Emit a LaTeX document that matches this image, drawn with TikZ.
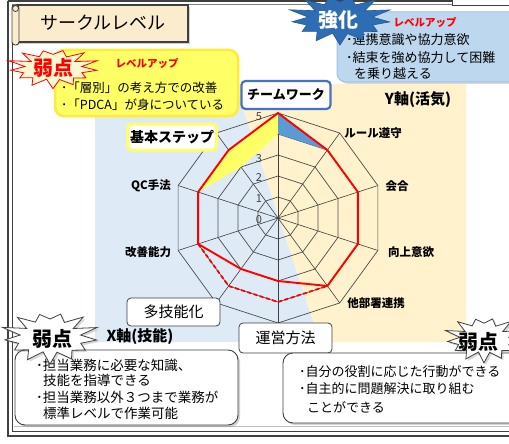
\documentclass[tikz,border=0pt]{standalone}
\usepackage{fontspec}
\setmainfont{Noto Sans CJK JP}
\usetikzlibrary{shadows,calc}
\definecolor{bgblue}{HTML}{DEEAF6}
\definecolor{bgcream}{HTML}{FFF2CC}
\definecolor{chartyellow}{HTML}{FFFF66}
\definecolor{chartblue}{HTML}{5B9BD5}
\definecolor{titlefill}{HTML}{FCECCE}
\definecolor{yellowedge}{HTML}{FFEB3B}
\definecolor{calloutblue}{HTML}{BDD7EE}
\definecolor{blueedge}{HTML}{9DC3E6}
\definecolor{teamblue}{HTML}{4472C4}
\definecolor{starblue}{HTML}{2E6DB4}
\definecolor{framegrey}{HTML}{404040}
\definecolor{starcream}{HTML}{FFF7D0}
\newcommand{\myfs}[1]{\fontsize{#1}{#1}\selectfont}
% #1 options, #2 cx, #3 cy, #4 rx, #5 ry
\newcommand{\drawburst}[5]{%
  \path[#1] ({#2+#4*cos(7)}, {#3+#5*sin(7)}) \foreach \i in {1,...,25}{ -- ({#2+#4*(0.83+0.17*cos(\i*180))*(1+0.09*sin(\i*137))*cos(\i*360/26+7)}, {#3+#5*(0.83+0.17*cos(\i*180))*(1+0.09*sin(\i*137))*sin(\i*360/26+7)}) } -- cycle;}
\begin{document}
\begin{tikzpicture}[x=1pt,y=-1pt,
  gridline/.style={draw=black!70, line width=0.7pt},
  axisline/.style={draw=black!75, line width=0.6pt},
  labelbox/.style={rounded corners=4pt, fill=white, inner sep=0pt},
  axislab/.style={font=\bfseries\myfs{11.5}, inner sep=0pt},
  bul/.style={anchor=west, inner sep=0pt},
  lvl/.style={font=\myfs{11}, text=black!75, inner sep=0pt},
  upstyle/.style={font=\bfseries\myfs{10.5}, text=red, inner sep=0pt},
  whitecallout/.style={draw=framegrey, line width=0.9pt, fill=white, rounded corners=10pt,
     drop shadow={opacity=0.35, shadow xshift=2pt, shadow yshift=-2pt}},
  bursttext/.style={font=\bfseries\myfs{20}, inner sep=0pt},
  whiteburst/.style={fill=white, draw=framegrey, line width=0.8pt,
     drop shadow={opacity=0.3, shadow xshift=2pt, shadow yshift=-2pt}},
]
\useasboundingbox (0,0) rectangle (509,444);
\clip (0,0) rectangle (509,444);
\fill[white] (0,0) rectangle (509,444);

% frame
\draw[black!25, line width=1pt] (14,426) -- (520,426);
\draw[framegrey, line width=2.2pt] (8,1) -- (8,436) -- (520,436);
\draw[framegrey, line width=0.9pt] (12,4) -- (12,431) -- (520,431);
\draw[framegrey, line width=1.2pt] (8,1) -- (452,1);
\draw[black!50, line width=0.8pt] (12,4) -- (452,4);
\draw[framegrey, line width=0.8pt, fill=white] (452,-3) rectangle (515,5);

% chart backgrounds
\fill[bgblue] (95,84) -- (235,84) -- (320,342) -- (95,342) -- cycle;
\fill[bgcream] (235,84) -- (466,84) -- (466,342) -- (320,342) -- cycle;

% radar chart
\begin{scope}[shift={(278,218)}, yscale=-1]
  \foreach \l in {1,...,5}
    \draw[gridline] (90:{21*\l}) \foreach \a in {54,18,...,-234}{ -- (\a:{21*\l}) } -- cycle;
  \foreach \a in {90,54,...,-234} \draw[axisline] (0,0) -- (\a:105);
  \fill[chartyellow] (90:105) -- (126:84) -- (162:84) -- (126:63) -- (90:84) -- cycle;
  \fill[chartblue] (90:105) -- (54:84) -- (90:84) -- cycle;
  \draw[red, line width=1.8pt, dash pattern=on 4pt off 2.5pt] (-162:84) -- (-126:84) -- (-90:84) -- (-54:84);
  \draw[red, line width=1.9pt, line join=round] (90:105) -- (54:84) -- (18:84) -- (-18:84) -- (-54:84)
     -- (-90:63) -- (-126:63) -- (-162:84) -- (162:84) -- (126:84) -- cycle;
\end{scope}

% level labels
\node[lvl] (l0) at (259,220) {0};
\node[lvl] (l1) at (259,199) {1};
\node[lvl] (l2) at (259,178) {2};
\node[lvl] (l3) at (259,159) {3};
\node[lvl] (l5) at (259,117) {5};

% axis labels
\node[axislab] (rule) at (373,133) {ルール遵守};
\node[axislab] (kaigo) at (397,186) {会合};
\node[axislab] (kojo) at (411,252) {向上意欲};
\node[axislab] (tabusho) at (376,303) {他部署連携};
\node[axislab] (qc) at (151,186) {QC手法};
\node[axislab] (kaizen) at (148,252) {改善能力};
\node[font=\bfseries\myfs{15}, inner sep=0pt] (yaxis) at (418,100) {Y軸(活気)};
\node[font=\bfseries\myfs{15}, inner sep=0pt] (xaxis) at (140,337) {X軸(技能)};

% label boxes
\node[labelbox, draw=teamblue, line width=2.2pt, minimum width=89pt, minimum height=28pt,
      font=\bfseries\myfs{13}] (team) at (286,95) {チームワーク};
\node[labelbox, draw=chartyellow, line width=3pt, minimum width=89pt, minimum height=26pt,
      font=\bfseries\myfs{14}] (kihon) at (172,137) {基本ステップ};
\node[labelbox, draw=framegrey, line width=0.8pt, minimum width=93pt, minimum height=28pt,
      font=\myfs{15}] (tagino) at (173.5,312) {多技能化};
\node[labelbox, draw=framegrey, line width=0.8pt, minimum width=93pt, minimum height=30pt,
      font=\myfs{15}] (unei) at (285.5,338) {運営方法};

% title
\path[fill=titlefill, draw=framegrey, line width=1.2pt,
      drop shadow={opacity=0.35, shadow xshift=2pt, shadow yshift=-2pt}] (17,5) rectangle (188,42);
\path[fill=titlefill, draw=framegrey, line width=0.9pt, rounded corners=3pt] (12,5) rectangle (19,45);
\draw[framegrey, line width=0.8pt, fill=titlefill] (15.5,8.5) circle (3);
\node[font=\myfs{18}, inner sep=0pt] (title) at (103,23) {サークルレベル};

% top-left yellow callout
\path[fill=chartyellow, draw=yellowedge, line width=2.5pt, rounded corners=9pt] (55,50) rectangle (238,116);
\node[upstyle] (up1) at (147,63) {レベルアップ};
\node[bul, font=\myfs{12.5}] (y1) at (61,88) {･「層別」の考え方での改善};
\node[bul, font=\myfs{12.5}] (y2) at (61,105) {･「PDCA」が身についている};
\drawburst{fill=starcream, draw=red, line width=0.8pt}{53}{68}{44}{19}
\node[bursttext, text=red] (weak1) at (53,68) {弱点};

% top-right blue callout
\path[fill=calloutblue, draw=blueedge, line width=1pt, rounded corners=9pt,
      drop shadow={opacity=0.3, shadow xshift=2pt, shadow yshift=-2pt}] (337,12) rectangle (520,82);
\node[upstyle] (up2) at (425,23) {レベルアップ};
\node[bul, font=\myfs{13}] (b1) at (346,40) {･連携意識や協力意欲};
\node[bul, font=\myfs{13}] (b2) at (346,58) {･結束を強め協力して困難};
\node[bul, font=\myfs{13}] (b3) at (354,74) {を乗り越える};
\drawburst{fill=starblue, draw=starblue!80!black, line width=0.6pt}{340}{19}{50}{24}
\node[bursttext, text=white] (kyoka) at (338,20) {強化};

% bottom-left callout
\path[whitecallout] (15,350) rectangle (238,425);
\node[bul, font=\myfs{13.5}] (c1) at (36,365) {･担当業務に必要な知識、};
\node[bul, font=\myfs{13.5}] (c2) at (43,380) {技能を指導できる};
\node[bul, font=\myfs{13.5}] (c3) at (36,397) {･担当業務以外３つまで業務が};
\node[bul, font=\myfs{13.5}] (c4) at (43,413) {標準レベルで作業可能};
\drawburst{whiteburst}{50}{337}{47}{25}
\node[bursttext] (weak2) at (52,339) {弱点};

% bottom-right callout
\path[whitecallout] (283,353) rectangle (520,423);
\node[bul, font=\myfs{13}] (d1) at (299,372) {･自分の役割に応じた行動ができる};
\node[bul, font=\myfs{13}] (d2) at (299,389) {･自主的に問題解決に取り組む};
\node[bul, font=\myfs{13}] (d3) at (307,407) {ことができる};
\drawburst{whiteburst}{484}{339}{38}{22}
\node[bursttext] (weak3) at (478,342) {弱点};
\end{tikzpicture}
\end{document}
